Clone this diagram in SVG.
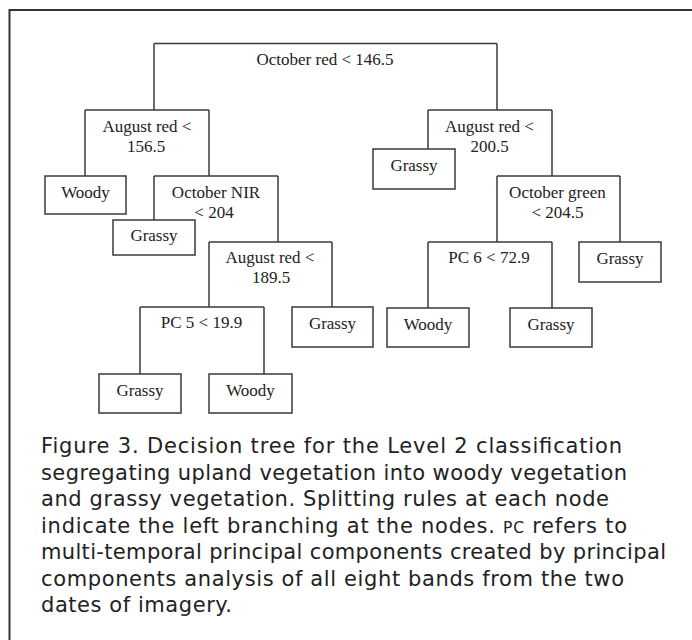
<svg xmlns="http://www.w3.org/2000/svg" width="692" height="640" viewBox="0 0 692 640">
<style>
.frame{fill:none;stroke:#333;stroke-width:2}
.bar{fill:none;stroke:#3a3a3a;stroke-width:1.5}
.leaf{fill:#fff;stroke:#3a3a3a;stroke-width:1.5}
.conn line{stroke:#3a3a3a;stroke-width:1.5}
.t{font-family:"Liberation Serif","Times New Roman",serif;font-size:17px;fill:#222;text-anchor:middle}
.cap{font-family:"DejaVu Sans","Liberation Sans",sans-serif;font-size:21px;fill:#222}
.sc{font-size:15.5px}
</style>
<rect width="692" height="640" fill="#fff"/>
<path class="frame" d="M9.5,640 V10 H692"/>

<g id="connectors" class="conn">
  <line x1="154" y1="43.5" x2="154" y2="110"/>
  <line x1="497" y1="43.5" x2="497" y2="110"/>
  <line x1="85" y1="110" x2="85" y2="176"/>
  <line x1="209" y1="110" x2="209" y2="176"/>
  <line x1="154" y1="176" x2="154" y2="220"/>
  <line x1="278" y1="176" x2="278" y2="242"/>
  <line x1="209" y1="242" x2="209" y2="307"/>
  <line x1="332" y1="242" x2="332" y2="307"/>
  <line x1="140" y1="307" x2="140" y2="374"/>
  <line x1="264" y1="307" x2="264" y2="374"/>
  <line x1="428" y1="110" x2="428" y2="149"/>
  <line x1="552" y1="110" x2="552" y2="176"/>
  <line x1="497" y1="176" x2="497" y2="242"/>
  <line x1="620" y1="176" x2="620" y2="242"/>
  <line x1="428" y1="242" x2="428" y2="308"/>
  <line x1="552" y1="242" x2="552" y2="308"/>
</g>

<g id="root">
  <path class="bar" d="M154,43.5 H497"/>
  <text class="t" x="325" y="65">October red &lt; 146.5</text>
</g>
<g id="n-aug156">
  <path class="bar" d="M85,110 H209"/>
  <text class="t" x="147" y="131.5">August red &lt;</text>
  <text class="t" x="146" y="151.5">156.5</text>
</g>
<g id="leaf-woody1">
  <rect class="leaf" x="45" y="176" width="81" height="38"/>
  <text class="t" x="85.5" y="197.5">Woody</text>
</g>
<g id="n-octnir">
  <path class="bar" d="M154,176 H278"/>
  <text class="t" x="216" y="197.5">October NIR</text>
  <text class="t" x="214" y="217.5">&lt; 204</text>
</g>
<g id="leaf-grassy1">
  <rect class="leaf" x="113" y="220" width="82" height="35"/>
  <text class="t" x="154" y="241">Grassy</text>
</g>
<g id="n-aug189">
  <path class="bar" d="M209,242 H332"/>
  <text class="t" x="270" y="263">August red &lt;</text>
  <text class="t" x="271" y="283">189.5</text>
</g>
<g id="n-pc5">
  <path class="bar" d="M140,307 H264"/>
  <text class="t" x="201.5" y="328">PC 5 &lt; 19.9</text>
</g>
<g id="leaf-grassy2">
  <rect class="leaf" x="99" y="374" width="82" height="39"/>
  <text class="t" x="140" y="396">Grassy</text>
</g>
<g id="leaf-woody2">
  <rect class="leaf" x="209" y="374" width="83" height="39"/>
  <text class="t" x="250.5" y="396">Woody</text>
</g>
<g id="leaf-grassy3">
  <rect class="leaf" x="292" y="307" width="81" height="40"/>
  <text class="t" x="332.5" y="329">Grassy</text>
</g>
<g id="n-aug200">
  <path class="bar" d="M428,110 H552"/>
  <text class="t" x="489.5" y="131.5">August red &lt;</text>
  <text class="t" x="489.5" y="151.5">200.5</text>
</g>
<g id="leaf-grassy4">
  <rect class="leaf" x="373" y="149" width="82" height="40"/>
  <text class="t" x="414" y="170.5">Grassy</text>
</g>
<g id="n-octgreen">
  <path class="bar" d="M497,176 H620"/>
  <text class="t" x="557.5" y="197.5">October green</text>
  <text class="t" x="557.5" y="217.5">&lt; 204.5</text>
</g>
<g id="leaf-grassy5">
  <rect class="leaf" x="579" y="242" width="82" height="40"/>
  <text class="t" x="620" y="263.5">Grassy</text>
</g>
<g id="n-pc6">
  <path class="bar" d="M428,242 H552"/>
  <text class="t" x="489" y="263">PC 6 &lt; 72.9</text>
</g>
<g id="leaf-woody3">
  <rect class="leaf" x="387" y="308" width="82" height="39"/>
  <text class="t" x="428" y="329.5">Woody</text>
</g>
<g id="leaf-grassy6">
  <rect class="leaf" x="510" y="308" width="82" height="39"/>
  <text class="t" x="551" y="329.5">Grassy</text>
</g>

<g id="caption" class="cap">
  <text x="41" y="453" textLength="581" lengthAdjust="spacing">Figure 3. Decision tree for the Level 2 classification</text>
  <text x="41" y="479.5" textLength="586" lengthAdjust="spacing">segregating upland vegetation into woody vegetation</text>
  <text x="41" y="506" textLength="568" lengthAdjust="spacing">and grassy vegetation. Splitting rules at each node</text>
  <text x="41" y="532.5" textLength="586" lengthAdjust="spacing">indicate the left branching at the nodes. <tspan class="sc">PC</tspan> refers to</text>
  <text x="41" y="559" textLength="625" lengthAdjust="spacing">multi-temporal principal components created by principal</text>
  <text x="41" y="585.5" textLength="583" lengthAdjust="spacing">components analysis of all eight bands from the two</text>
  <text x="41" y="612" textLength="191" lengthAdjust="spacing">dates of imagery.</text>
</g>
</svg>
